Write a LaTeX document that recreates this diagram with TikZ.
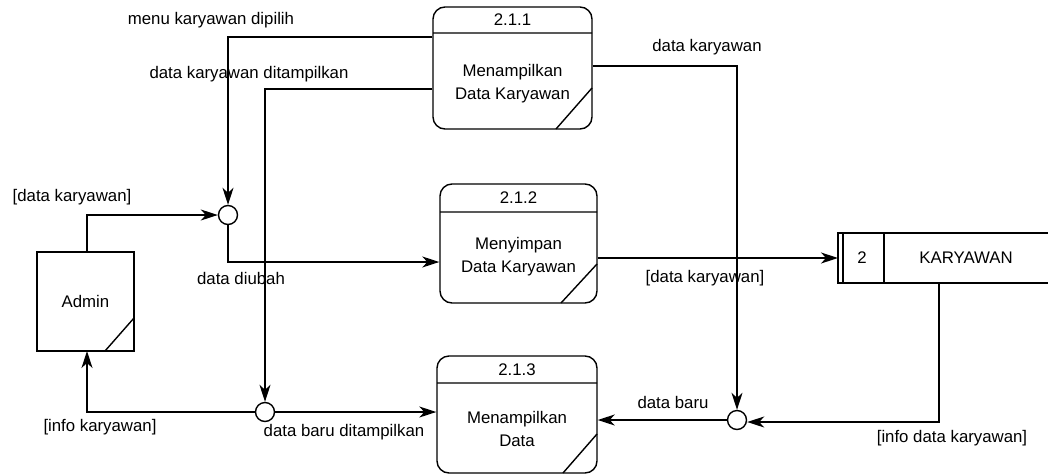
\documentclass[tikz,border=0pt]{standalone}
\usepackage{fontspec}
\setmainfont{Liberation Sans}
\usetikzlibrary{arrows.meta}
\begin{document}
\begin{tikzpicture}[x=1pt,y=-1pt,
  line width=1.4pt,
  every node/.style={font=\fontsize{16.8}{23}\selectfont, inner sep=0pt},
  proc/.style={draw, rounded corners=12pt, line width=1.4pt},
  ent/.style={draw, line width=1.4pt},
  junc/.style={draw, circle, minimum size=19pt, fill=white, line width=1.4pt},
  flow/.style={line width=1.3pt, -{Stealth[length=17pt,width=11pt,inset=5pt]}},
  plain/.style={line width=1.3pt},
  lbl/.style={align=center}]
\useasboundingbox (0,0) rectangle (1048,474);
% processes
\node[proc, minimum width=159pt, minimum height=122pt] (p1) at (512.5,68) {};
\node[proc, minimum width=157pt, minimum height=119pt] (p2) at (518.5,243.5) {};
\node[proc, minimum width=160pt, minimum height=117pt] (p3) at (517,414.5) {};
\draw (433,33) -- (592,33) (592,88) -- (556,129);
\draw (440,212) -- (597,212) (597,264) -- (561,303);
\draw (437,383) -- (597,383) (597,434) -- (563,473);
\node (p1n) at (512.5,20) {2.1.1};
\node (p2n) at (518.5,198) {2.1.2};
\node (p3n) at (517,370) {2.1.3};
\node[lbl] (p1t) at (512.5,83.5) {Menampilkan\\Data Karyawan};
\node[lbl] (p2t) at (518.5,257) {Menyimpan\\Data Karyawan};
\node[lbl] (p3t) at (517,428.5) {Menampilkan\\Data};
% entity
\node[ent, minimum width=97pt, minimum height=99pt] (admin) at (85.5,301.5) {Admin};
\draw (134,318) -- (105,351);
% store
\coordinate (storeW) at (838,258);
\coordinate (storeB) at (939,283);
\draw (1048,233) -- (838,233) -- (838,283) -- (1048,283);
\draw (843,233) -- (843,283) (884,233) -- (884,283);
\node (sn) at (862,258) {2};
\node (st) at (966,258) {KARYAWAN};
% junctions
\node[junc] (j1) at (228,215) {};
\node[junc] (j2) at (265,412) {};
\node[junc] (j3) at (737,420) {};
% flows
\draw[flow] (p1.west |- 0,37) -- (228,37) -- (j1.north);
\draw[flow] (p1.west |- 0,89) -- (265,89) -- (j2.north);
\draw[flow] (87,252) -- (87,215) -- (j1.west);
\draw[flow] (j1.south) -- (228,262) -- (p2.west |- 0,262);
\draw[flow] (j2.west) -- (87,412) -- (87,351);
\draw[flow] (j2.east) -- (p3.west |- 0,412);
\draw[flow] (p1.east |- 0,66) -- (737,66) -- (j3.north);
\draw[flow] (p2.east |- 0,258) -- (storeW);
\draw[flow] (storeB) -- (939,422) -- (j3.east |- 0,422);
\draw[flow] (j3.west) -- (p3.east |- 0,420);
% labels
\node (l1) at (211,20) {menu karyawan dipilih};
\node (l2) at (249,74) {data karyawan ditampilkan};
\node (l3) at (72,197) {[data karyawan]};
\node (l4) at (241,278) {data diubah};
\node (l5) at (100,427) {[info karyawan]};
\node (l6) at (344,432) {data baru ditampilkan};
\node (l7) at (707,47) {data karyawan};
\node (l8) at (705,278) {[data karyawan]};
\node (l9) at (673,402) {data baru};
\node (l10) at (952,438) {[info data karyawan]};
\end{tikzpicture}
\end{document}
